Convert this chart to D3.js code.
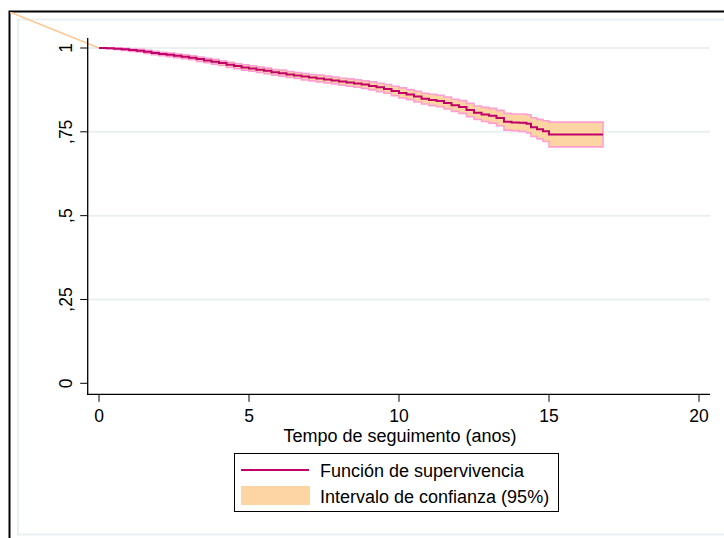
<!DOCTYPE html>
<html>
<head>
<meta charset="utf-8">
<script src="https://cdn.jsdelivr.net/npm/d3@7"></script>
<style>
  body { margin: 0; background: #fff; }
  svg text { font-family: "Liberation Sans", Arial, sans-serif; fill: #000; }
</style>
</head>
<body>
<svg id="chart" width="724" height="538"></svg>
<script>
// Kaplan-Meier estimate
var times = [0, 0.25, 0.5, 0.75, 1.0, 1.25, 1.5, 1.75, 2.0, 2.25, 2.5, 2.75, 3.0, 3.25, 3.5, 3.75, 4.0, 4.25, 4.5, 4.75,
             5.0, 5.25, 5.5, 5.75, 6.0, 6.25, 6.5, 6.75, 7.0, 7.25, 7.5, 7.75, 8.0, 8.25, 8.5, 8.75, 9.0, 9.25, 9.5, 9.75,
             10.0, 10.25, 10.5, 10.75, 11.0, 11.25, 11.5, 11.75, 12.0, 12.25, 12.5, 12.75, 13.0, 13.25, 13.5, 13.75,
             14.0, 14.25, 14.4, 14.6, 14.8, 15.0, 16.8];
var survival = [1.000, 0.999, 0.998, 0.996, 0.994, 0.992, 0.989, 0.985, 0.982, 0.980, 0.977, 0.974, 0.971, 0.967, 0.963, 0.959, 0.955, 0.950, 0.946, 0.942,
                0.939, 0.935, 0.932, 0.928, 0.925, 0.921, 0.918, 0.915, 0.912, 0.909, 0.906, 0.903, 0.900, 0.897, 0.894, 0.891, 0.887, 0.883, 0.878, 0.872,
                0.866, 0.861, 0.855, 0.849, 0.845, 0.842, 0.836, 0.829, 0.824, 0.815, 0.807, 0.802, 0.798, 0.791, 0.780, 0.778,
                0.777, 0.774, 0.764, 0.758, 0.752, 0.742, 0.742];
var ciLower = [1.000, 0.998, 0.996, 0.993, 0.990, 0.988, 0.984, 0.980, 0.977, 0.974, 0.971, 0.968, 0.965, 0.960, 0.956, 0.952, 0.948, 0.942, 0.938, 0.934,
               0.931, 0.927, 0.923, 0.919, 0.916, 0.912, 0.909, 0.905, 0.902, 0.899, 0.896, 0.893, 0.889, 0.886, 0.883, 0.879, 0.875, 0.870, 0.865, 0.858,
               0.851, 0.846, 0.839, 0.833, 0.828, 0.825, 0.818, 0.811, 0.805, 0.795, 0.787, 0.781, 0.776, 0.768, 0.755, 0.753,
               0.751, 0.747, 0.736, 0.729, 0.721, 0.705, 0.705];
var ciUpper = [1.000, 1.000, 1.000, 0.999, 0.997, 0.996, 0.993, 0.990, 0.987, 0.985, 0.982, 0.980, 0.977, 0.973, 0.969, 0.966, 0.962, 0.957, 0.953, 0.950,
               0.947, 0.943, 0.940, 0.936, 0.934, 0.930, 0.927, 0.924, 0.921, 0.919, 0.916, 0.913, 0.910, 0.908, 0.905, 0.902, 0.899, 0.895, 0.891, 0.886,
               0.881, 0.876, 0.871, 0.865, 0.862, 0.859, 0.854, 0.847, 0.843, 0.835, 0.827, 0.823, 0.820, 0.814, 0.805, 0.803,
               0.803, 0.801, 0.792, 0.787, 0.783, 0.779, 0.779];
// stray band edge that runs off the top-left corner
var ciOrigin = [[-2.97, 1.107], [0, 1.000]];

var xTicks = [0, 5, 10, 15, 20];
var yTicks = [0, 0.25, 0.5, 0.75, 1];
var yTickLabels = ["0", ",25", ",5", ",75", "1"];
var legendItems = ["Función de supervivencia", "Intervalo de confianza (95%)"];

var lineColor = "#c1006b";
var bandFill = "#fdd5a3";
var bandEdge = "#ff9ed0";

var svg = d3.select("#chart");

var x = d3.scaleLinear().domain([0, 20]).range([99, 699]);
var y = d3.scaleLinear().domain([0, 1]).range([383.3, 48]);

var rows = times.map((t, i) => ({ t: t, s: survival[i], lo: ciLower[i], hi: ciUpper[i] }));

// graph frame
svg.append("rect")
  .attr("x", 18).attr("y", 19.5).attr("width", 760).attr("height", 515)
  .attr("fill", "none").attr("stroke", "#eaf1f2").attr("stroke-width", 2);
svg.append("rect")
  .attr("x", 9.5).attr("y", 11.5).attr("width", 780).attr("height", 600)
  .attr("fill", "none").attr("stroke", "#000").attr("stroke-width", 2);

svg.append("clipPath").attr("id", "frame")
  .append("rect").attr("x", 10).attr("y", 12).attr("width", 714).attr("height", 526);

// gridlines
svg.append("g").selectAll("line")
  .data(yTicks.filter(d => d > 0))
  .enter().append("line")
  .attr("x1", 88).attr("x2", 710)
  .attr("y1", d => y(d)).attr("y2", d => y(d))
  .attr("stroke", "#eaf0f0").attr("stroke-width", 2);

// confidence band
var area = d3.area()
  .curve(d3.curveStepAfter)
  .x(d => x(d.t))
  .y0(d => y(d.lo))
  .y1(d => y(d.hi));

svg.append("path")
  .datum(rows)
  .attr("d", area)
  .attr("fill", bandFill)
  .attr("stroke", bandEdge)
  .attr("stroke-width", 1.6);

svg.append("path")
  .datum(ciOrigin)
  .attr("clip-path", "url(#frame)")
  .attr("d", d3.line().x(d => x(d[0])).y(d => y(d[1])))
  .attr("fill", "none")
  .attr("stroke", "#fdc893")
  .attr("stroke-width", 1.5);

// survival curve
var line = d3.line()
  .curve(d3.curveStepAfter)
  .x(d => x(d.t))
  .y(d => y(d.s));

svg.append("path")
  .datum(rows)
  .attr("d", line)
  .attr("fill", "none")
  .attr("stroke", lineColor)
  .attr("stroke-width", 2);

// axes
var xAxis = svg.append("g").attr("transform", "translate(0,394.3)");
xAxis.append("line").attr("x1", 87).attr("x2", 710).attr("stroke", "#000").attr("stroke-width", 1.3);
xAxis.selectAll(".tick").data(xTicks).enter().append("line")
  .attr("x1", d => x(d)).attr("x2", d => x(d))
  .attr("y1", 0).attr("y2", 7.5)
  .attr("stroke", "#000").attr("stroke-width", 1);
xAxis.selectAll("text").data(xTicks).enter().append("text")
  .attr("x", d => x(d)).attr("y", 27.5)
  .attr("text-anchor", "middle")
  .style("font-size", "17.5px")
  .text(d => d);

var yAxis = svg.append("g").attr("transform", "translate(87.7,0)");
yAxis.append("line").attr("y1", 38).attr("y2", 394.3).attr("stroke", "#000").attr("stroke-width", 1.3);
yAxis.selectAll(".tick").data(yTicks).enter().append("line")
  .attr("x1", 0).attr("x2", -7.5)
  .attr("y1", d => y(d)).attr("y2", d => y(d))
  .attr("stroke", "#000").attr("stroke-width", 1);
yAxis.selectAll("text").data(yTicks).enter().append("text")
  .attr("transform", d => `translate(-15.5,${y(d)}) rotate(-90)`)
  .attr("text-anchor", "middle")
  .style("font-size", "17.5px")
  .text((d, i) => yTickLabels[i]);

svg.append("text")
  .attr("x", 400).attr("y", 442)
  .attr("text-anchor", "middle")
  .style("font-size", "18px")
  .text("Tempo de seguimento (anos)");

// legend
var legend = svg.append("g").attr("class", "legend");
legend.append("rect")
  .attr("x", 234.5).attr("y", 453.5).attr("width", 324).attr("height", 58)
  .attr("fill", "#fff").attr("stroke", "#000").attr("stroke-width", 1);
legend.append("line")
  .attr("x1", 241).attr("x2", 309).attr("y1", 470).attr("y2", 470)
  .attr("stroke", lineColor).attr("stroke-width", 2);
legend.append("rect")
  .attr("x", 241).attr("y", 486).attr("width", 69).attr("height", 19)
  .attr("fill", bandFill);
legend.selectAll("text")
  .data(legendItems)
  .enter().append("text")
  .attr("x", 320)
  .attr("y", (d, i) => 477 + i * 25.5)
  .style("font-size", "18px")
  .text(d => d);
</script>
</body>
</html>
